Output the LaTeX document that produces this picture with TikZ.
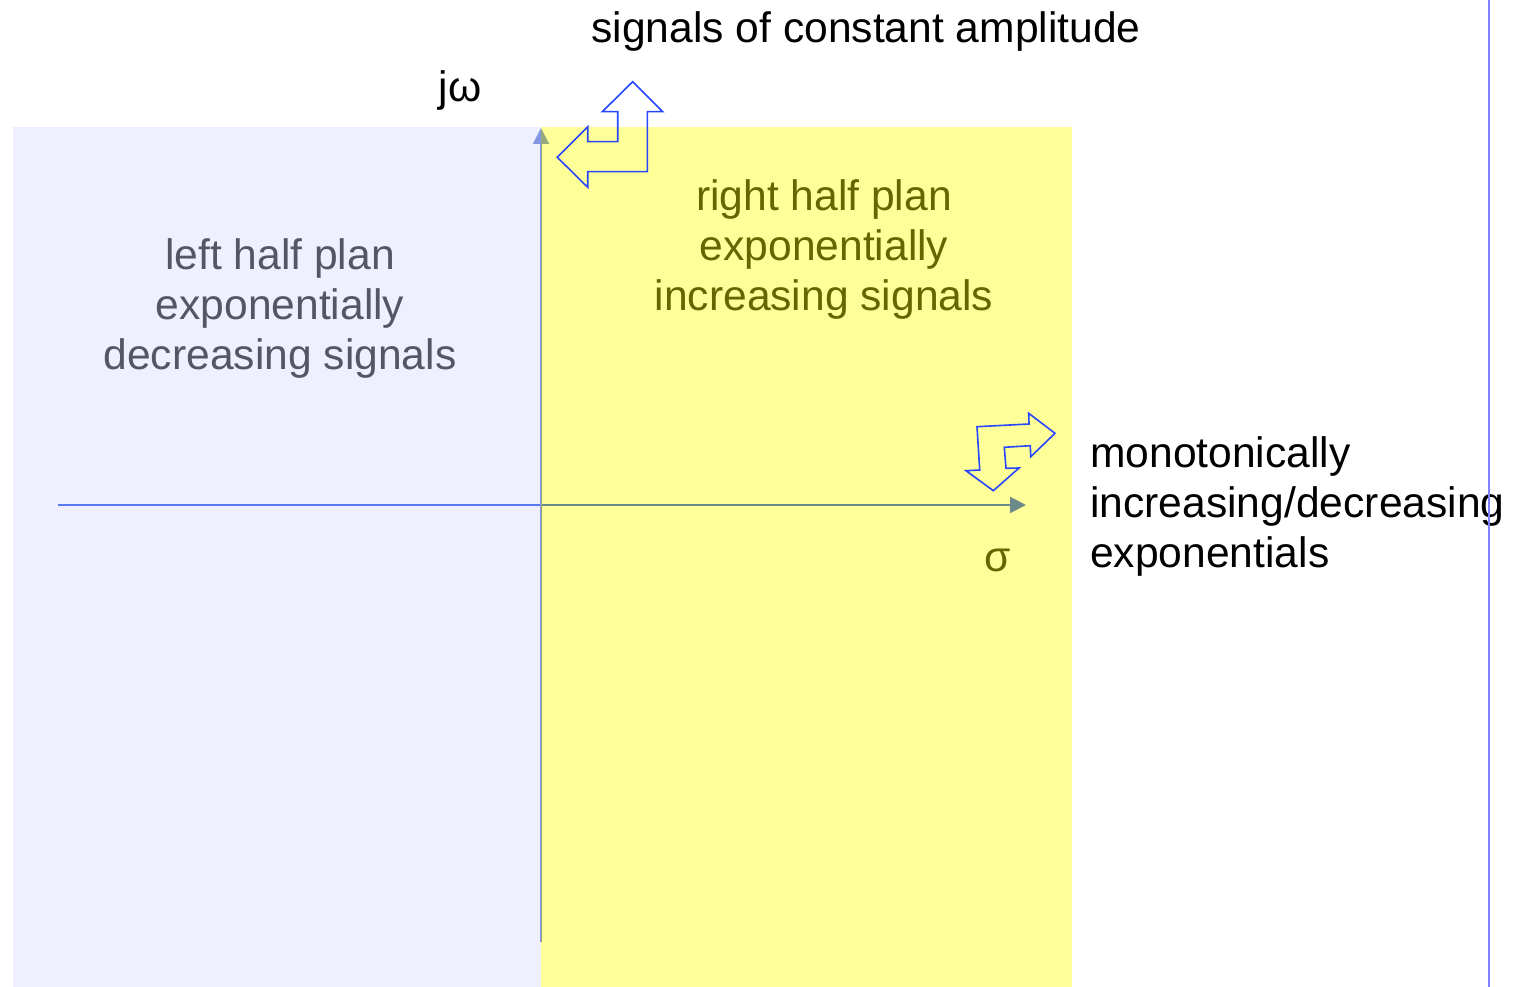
\documentclass[tikz,border=0pt]{standalone}
\usepackage{fontspec}
\setmainfont{Liberation Sans}
\usetikzlibrary{arrows.meta}
\definecolor{axisblue}{RGB}{10,60,230}
\definecolor{vaxisblue}{RGB}{80,110,210}
\definecolor{lavender}{RGB}{214,214,255}
\definecolor{overyellow}{RGB}{255,255,0}
\definecolor{arrowblue}{RGB}{40,70,255}
\definecolor{rightline}{RGB}{128,128,255}
\begin{document}
\begin{tikzpicture}[x=1pt,y=-1pt,
  lbl/.style={font=\fontsize{42.6}{50}\selectfont, inner sep=0pt, align=center, anchor=base},
  lbll/.style={font=\fontsize{42.6}{50}\selectfont, inner sep=0pt, align=left, anchor=base west},
  bent/.style={draw=arrowblue, line width=1.6pt, line join=miter},
  axisline/.style={line width=2pt, -{Triangle[length=16pt,width=16pt]}}]
\useasboundingbox (0,0) rectangle (1519,987);
% texts (base anchor of a multi-line node = baseline of its last line)
\node[lbl] (top) at (866,43) {signals of constant amplitude};
\node[lbl] (jw) at (460,102) {jω};
\node[lbl] (lhp) at (280,369) {left half plan\\exponentially\\decreasing signals};
\node[lbl] (rhp) at (824,310) {right half plan\\exponentially\\increasing signals};
\node[lbl] (sigma) at (998,571) {σ};
\node[lbll] (mono) at (1090,567) {monotonically\\increasing/decreasing\\exponentials};
% axes
\coordinate (hs) at (58,505);
\coordinate (he) at (1026,505);
\coordinate (vs) at (541,942);
\coordinate (ve) at (541,128);
\draw[axisline, draw=axisblue, fill=axisblue] (hs) -- (he);
\draw[axisline, draw=vaxisblue, fill=vaxisblue] (vs) -- (ve);
% half-plane overlays
\fill[lavender, opacity=0.4] (13,127) rectangle (541,987);
\fill[overyellow, opacity=0.4] (541,127) rectangle (1072,987);
% bent arrows
\draw[bent] (632.7,81.7) -- (662.7,111.7) -- (647.3,111.7) -- (647.3,171.7)
  -- (587.7,171.7) -- (587.7,187.3) -- (557.3,157.3) -- (587.7,126.7)
  -- (587.7,141.7) -- (617.7,141.7) -- (617.7,111.7) -- (602.3,111.7) -- cycle;
\draw[bent] (1055,433.3) -- (1028.7,413.3) -- (1029,424) -- (977,426.7)
  -- (979.7,470) -- (966,470.7) -- (993.3,490.7) -- (1019,468)
  -- (1006,468.3) -- (1004.3,447.3) -- (1030.3,445.7) -- (1030.7,456.7) -- cycle;
% right border line
\coordinate (rt) at (1489,0);
\coordinate (rb) at (1489,987);
\draw[rightline, line width=2pt] (rt) -- (rb);
\end{tikzpicture}
\end{document}
